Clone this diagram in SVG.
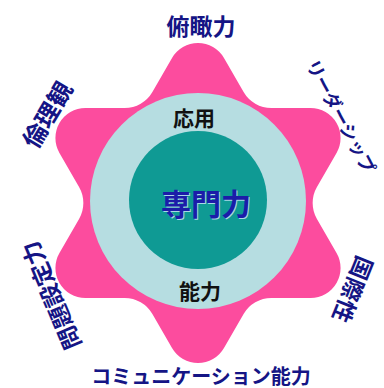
<svg xmlns="http://www.w3.org/2000/svg" width="384" height="388" viewBox="0 0 384 388">
<style>
.lbl{font-family:"Noto Sans CJK JP","Noto Sans",sans-serif;font-weight:bold;fill:#151585;text-anchor:middle;dominant-baseline:central}
.in{font-family:"Noto Sans CJK JP","Noto Sans",sans-serif;font-weight:bold;fill:#111;text-anchor:middle;dominant-baseline:central;font-size:21px}
.pink{fill:#fc4c9e}
</style>
<rect width="384" height="388" fill="#fff"/>
<g id="star" transform="translate(198,203)">
<path class="pink" d="M 25.98,-145 L 45.61,-111 A 32 32 0 0 0 73.33,-95 L 112.58,-95 A 30 30 0 0 1 138.56,-50 L 118.94,-16 A 32 32 0 0 0 118.94,16 L 138.56,50 A 30 30 0 0 1 112.58,95 L 73.32,95 A 32 32 0 0 0 45.6,111 L 25.98,145 A 30 30 0 0 1 -25.98,145 L -45.61,111 A 32 32 0 0 0 -73.33,95 L -112.58,95 A 30 30 0 0 1 -138.56,50 L -118.94,16 A 32 32 0 0 0 -118.94,-16 L -138.56,-50 A 30 30 0 0 1 -112.58,-95 L -73.32,-95 A 32 32 0 0 0 -45.6,-111 L -25.98,-145 A 30 30 0 0 1 25.98,-145 Z"/>
</g>
<g id="outer-ring"><circle cx="198" cy="201" r="108" fill="#b6dde1"/></g>
<g id="core"><circle cx="198" cy="200" r="69" fill="#0f9a94"/>
<text x="207" y="203" class="lbl" style="font-size:30px;fill:#a9d6e6">専門力</text>
<text x="206" y="202" class="lbl" style="font-size:30px;fill:#1c1ca8">専門力</text>
</g>
<g id="inner-labels">
<text x="194" y="117" class="in">応用</text>
<text x="200" y="290" class="in">能力</text>
</g>
<g id="label-top"><text x="201" y="25" class="lbl" style="font-size:23px">俯瞰力</text></g>
<g id="label-ur"><text class="lbl" style="font-size:18px" transform="translate(342,116) rotate(62)">リーダーシップ</text></g>
<g id="label-lr"><text class="lbl" style="font-size:23px" transform="translate(354,290) rotate(112)">国際性</text></g>
<g id="label-bottom"><text x="201" y="375" class="lbl" style="font-size:20px">コミュニケーション能力</text></g>
<g id="label-ll"><text class="lbl" style="font-size:23px" transform="translate(50,296) rotate(247)">問題設定力</text></g>
<g id="label-ul"><text class="lbl" style="font-size:24px" transform="translate(46,114) rotate(-59)">倫理観</text></g>
</svg>
